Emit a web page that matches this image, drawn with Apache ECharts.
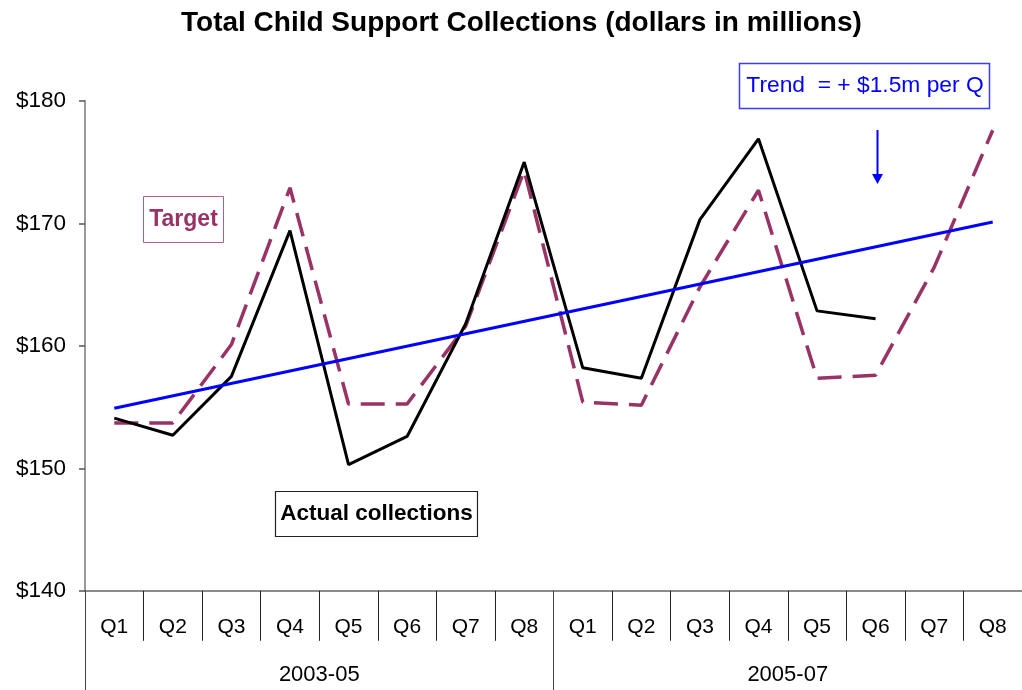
<!DOCTYPE html>
<html>
<head>
<meta charset="utf-8">
<script src="https://cdn.jsdelivr.net/npm/echarts@6/dist/echarts.min.js"></script>
<style>
html,body{margin:0;padding:0;background:#fff;}
#chart{width:1022px;height:690px;}
</style>
</head>
<body>
<div id="chart"></div>
<script>
const quarters = ['Q1','Q2','Q3','Q4','Q5','Q6','Q7','Q8','Q1','Q2','Q3','Q4','Q5','Q6','Q7','Q8'];
const periods = ['2003-05','2005-07'];
const actual = [154.1, 152.7, 157.5, 169.4, 150.3, 152.6, 161.8, 175.0, 158.2, 157.35, 170.3, 176.9, 162.85, 162.2, null, null];
const target = [153.7, 153.7, 160.1, 172.9, 155.25, 155.25, 161.6, 174.3, 155.4, 155.15, 164.8, 172.7, 157.35, 157.6, 166.4, 177.6];
const trend = [154.9, null, null, null, null, null, null, null, null, null, null, null, null, null, null, 170.1];
const yTicks = [140, 150, 160, 170, 180];

const FONT = '"Liberation Sans", Arial, sans-serif';
const chart = echarts.init(document.getElementById('chart'), null, {renderer: 'canvas'});
chart.setOption({
  animation: false,
  backgroundColor: '#fff',
  title: {
    text: 'Total Child Support Collections (dollars in millions)',
    left: 176, top: 4,
    textStyle: {fontFamily: FONT, fontSize: 28, fontWeight: 'bold', color: '#000'}
  },
  grid: {left: 85, top: 100.8, width: 945, height: 490, containLabel: false},
  xAxis: [{
    type: 'category', data: quarters, position: 'bottom',
    axisLine: {show: true, lineStyle: {color: '#666', width: 1.5}},
    axisTick: {show: true, interval: 0, length: 50, lineStyle: {color: '#222', width: 1}},
    axisLabel: {interval: 0, margin: 26, fontFamily: FONT, fontSize: 21, color: '#000'},
    splitLine: {show: false}
  }, {
    type: 'category', data: periods, position: 'bottom',
    axisLine: {show: false},
    axisTick: {show: true, interval: 0, length: 100, lineStyle: {color: '#444', width: 1}},
    axisLabel: {interval: 0, margin: 73, fontFamily: FONT, fontSize: 22, color: '#000'},
    splitLine: {show: false}
  }],
  yAxis: {
    type: 'value', min: 140, max: 180, interval: 10,
    axisLine: {show: true, lineStyle: {color: '#777', width: 1.5}},
    axisTick: {show: true, length: 6, lineStyle: {color: '#555', width: 1.5}},
    axisLabel: {margin: 19, fontFamily: FONT, fontSize: 22.5, color: '#000',
      formatter: v => yTicks.includes(v) ? '$' + v : ''},
    splitLine: {show: false}
  },
  series: [{
    name: 'Target', type: 'line', data: target, symbol: 'none',
    lineStyle: {color: '#993366', width: 3.5, type: [24, 11]}
  }, {
    name: 'Actual collections', type: 'line', data: actual, symbol: 'none',
    lineStyle: {color: '#000', width: 3}
  }, {
    name: 'Trend', type: 'line', data: trend, symbol: 'none', connectNulls: true,
    lineStyle: {color: '#0000ff', width: 3}
  }],
  graphic: [
    {type: 'rect', shape: {x: 143.5, y: 196.5, width: 80, height: 46},
     style: {fill: '#fff', stroke: '#b85c8c', lineWidth: 1}},
    {type: 'text', x: 183.5, y: 219.5,
     style: {text: 'Target', fill: '#993366', font: 'bold 23px ' + FONT, textAlign: 'center', textVerticalAlign: 'middle'}},
    {type: 'rect', shape: {x: 275.5, y: 491.5, width: 202, height: 45},
     style: {fill: '#fff', stroke: '#222', lineWidth: 1.2}},
    {type: 'text', x: 376.5, y: 514,
     style: {text: 'Actual collections', fill: '#000', font: 'bold 22.5px ' + FONT, textAlign: 'center', textVerticalAlign: 'middle'}},
    {type: 'rect', shape: {x: 739.5, y: 63.5, width: 250, height: 45},
     style: {fill: '#fff', stroke: '#3b3bff', lineWidth: 1.5}},
    {type: 'text', x: 865, y: 85.5,
     style: {text: 'Trend  = + $1.5m per Q', fill: '#0000ff', font: '22.8px ' + FONT, textAlign: 'center', textVerticalAlign: 'middle'}},
    {type: 'line', shape: {x1: 877.5, y1: 130, x2: 877.5, y2: 176},
     style: {stroke: '#0000ff', lineWidth: 2}},
    {type: 'polygon', shape: {points: [[872, 174], [883, 174], [877.5, 184]]},
     style: {fill: '#0000ff'}}
  ]
});
</script>
</body>
</html>
